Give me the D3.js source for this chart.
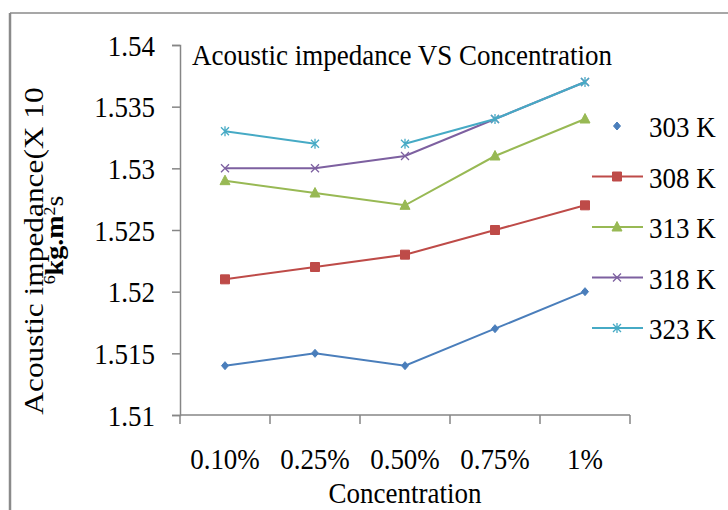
<!DOCTYPE html>
<html>
<head>
<meta charset="utf-8">
<script src="https://cdn.jsdelivr.net/npm/d3@7"></script>
<style>
  html, body { margin: 0; padding: 0; background: #fff; }
  svg { display: block; }
  text { font-family: "Liberation Serif", "Times New Roman", serif; fill: #000; }
</style>
</head>
<body>
<svg id="chart" width="728" height="510"></svg>
<script>
// ---- data ----
const categories = ["0.10%", "0.25%", "0.50%", "0.75%", "1%"];
const seriesNames = ["303 K", "308 K", "313 K", "318 K", "323 K"];
const values303 = [1.514, 1.515, 1.514, 1.517, 1.520];
const values308 = [1.521, 1.522, 1.523, 1.525, 1.527];
const values313 = [1.529, 1.528, 1.527, 1.531, 1.534];
const values318 = [1.530, 1.530, 1.531, 1.534, 1.537];
const values323 = [1.533, 1.532, 1.532, 1.534, 1.537];
// index after which the connecting line is missing (null = none)
const gapAfter = [null, null, null, null, 1];
const yTickValues = [1.51, 1.515, 1.52, 1.525, 1.53, 1.535, 1.54];
const yTickLabels = ["1.51", "1.515", "1.52", "1.525", "1.53", "1.535", "1.54"];
const titleText = "Acoustic impedance VS Concentration";
const xTitle = "Concentration";

// ---- style ----
const colors = ["#4A7EBB", "#BE4B48", "#98B954", "#7D60A0", "#46AAC5"];
const markers = ["diamond", "square", "triangle", "x", "star"];
const allValues = [values303, values308, values313, values318, values323];
const FS = 27, SY = 1.12;
const axisColor = "#868686";

const svg = d3.select("#chart");

// frame
svg.append("line").attr("x1", 10).attr("y1", 13).attr("x2", 728).attr("y2", 13)
  .attr("stroke", "#8a8a8a").attr("stroke-width", 1.5);
svg.append("line").attr("x1", 10).attr("y1", 13).attr("x2", 10).attr("y2", 510)
  .attr("stroke", "#8a8a8a").attr("stroke-width", 2.5);

const x = d3.scaleBand().domain(categories).range([180, 630]);
const y = d3.scaleLinear().domain([1.51, 1.54]).range([415, 45]);
const cx = c => x(c) + x.bandwidth() / 2;

// y axis
const yAxis = d3.axisLeft(y).tickValues(yTickValues).tickFormat((d, i) => yTickLabels[i]).tickSize(8);
const gy = svg.append("g").attr("transform", "translate(180,0)").call(yAxis);
gy.attr("font-family", null).attr("font-size", null);
gy.select(".domain").attr("stroke", axisColor).attr("stroke-width", 1.5);
gy.selectAll(".tick line").attr("stroke", axisColor).attr("stroke-width", 1.5);
gy.selectAll(".tick text")
  .attr("x", null).attr("dy", null)
  .attr("transform", `translate(-25,10) scale(1,${SY})`)
  .attr("text-anchor", "end")
  .style("font-family", "Liberation Serif").style("font-size", FS + "px").attr("fill", "#000");

// x axis (ticks at category boundaries)
const gx = svg.append("g").attr("transform", "translate(0,415)");
gx.append("line").attr("x1", 180).attr("x2", 630).attr("y1", 0).attr("y2", 0)
  .attr("stroke", axisColor).attr("stroke-width", 1.5);
const bounds = categories.map(c => x(c)).concat([x.range()[1]]);
gx.selectAll("line.tk").data(bounds).join("line").attr("class", "tk")
  .attr("x1", d => d).attr("x2", d => d).attr("y1", 0).attr("y2", 9)
  .attr("stroke", axisColor).attr("stroke-width", 1.5);
gx.selectAll("text.lbl").data(categories).join("text").attr("class", "lbl")
  .attr("transform", d => `translate(${cx(d)},54) scale(1,${SY})`)
  .attr("text-anchor", "middle").style("font-size", FS + "px").text(d => d);

// lines and markers
const markerPath = (type) => {
  switch (type) {
    case "diamond": return "M0,-4L3.5,0L0,4L-3.5,0Z";
    case "square": return "M-4.5,-4.5H4.5V4.5H-4.5Z";
    case "triangle": return "M0,-5.5L5,4L-5,4Z";
    case "x": return "M-4,-4L4,4M-4,4L4,-4";
    case "star": return "M-4,-4L4,4M-4,4L4,-4M0,-5V5";
  }
};
const filled = t => t === "diamond" || t === "square" || t === "triangle";

allValues.forEach((vals, si) => {
  const pts = vals.map((v, i) => [cx(categories[i]), y(v)]);
  const segs = [];
  let cur = [];
  pts.forEach((p, i) => {
    cur.push(p);
    if (gapAfter[si] === i) { segs.push(cur); cur = []; }
  });
  if (cur.length) segs.push(cur);
  const line = d3.line();
  segs.forEach(s => {
    svg.append("path").attr("d", line(s)).attr("fill", "none")
      .attr("stroke", colors[si]).attr("stroke-width", 2);
  });
  svg.append("g").selectAll("path").data(pts).join("path")
    .attr("transform", p => `translate(${p[0]},${p[1]})`)
    .attr("d", markerPath(markers[si]))
    .attr("fill", filled(markers[si]) ? colors[si] : "none")
    .attr("stroke", colors[si])
    .attr("stroke-width", filled(markers[si]) ? 1 : 1.3);
});

// legend
const lg = svg.append("g");
seriesNames.forEach((name, i) => {
  const ly = 126 + i * 50.5;
  if (i > 0) {
    lg.append("line").attr("x1", 592).attr("x2", 643).attr("y1", ly).attr("y2", ly)
      .attr("stroke", colors[i]).attr("stroke-width", 2);
  }
  lg.append("path").attr("transform", `translate(617,${ly})`)
    .attr("d", markerPath(markers[i]))
    .attr("fill", filled(markers[i]) ? colors[i] : "none")
    .attr("stroke", colors[i]).attr("stroke-width", filled(markers[i]) ? 1 : 1.3);
  lg.append("text").attr("transform", `translate(649,${ly + 11}) scale(1,${SY})`)
    .style("font-size", FS + "px").text(name);
});

// title
svg.append("text").attr("transform", `translate(402,65) scale(1,${SY})`)
  .attr("text-anchor", "middle").style("font-size", FS + "px").text(titleText);

// x title
svg.append("text").attr("transform", `translate(405,503) scale(1,${SY})`)
  .attr("text-anchor", "middle").style("font-size", FS + "px").text(xTitle);

// y title (two lines)
svg.append("text").attr("transform", `translate(43,251) scale(1,${SY}) rotate(-90)`)
  .attr("text-anchor", "middle").style("font-size", "28px").text("Acoustic impedance(X 10");
const t2 = svg.append("text").attr("transform", `translate(63,240) scale(1,${SY}) rotate(-90)`)
  .attr("text-anchor", "middle").style("font-size", "25px").style("font-weight", "bold");
t2.append("tspan").attr("baseline-shift", "super").style("font-size", "16px").style("font-weight", "normal").text("6");
t2.append("tspan").text("kg.m");
t2.append("tspan").attr("baseline-shift", "super").style("font-size", "16px").style("font-weight", "normal").text("2");
t2.append("tspan").style("font-weight", "normal").text("s");
</script>
</body>
</html>
